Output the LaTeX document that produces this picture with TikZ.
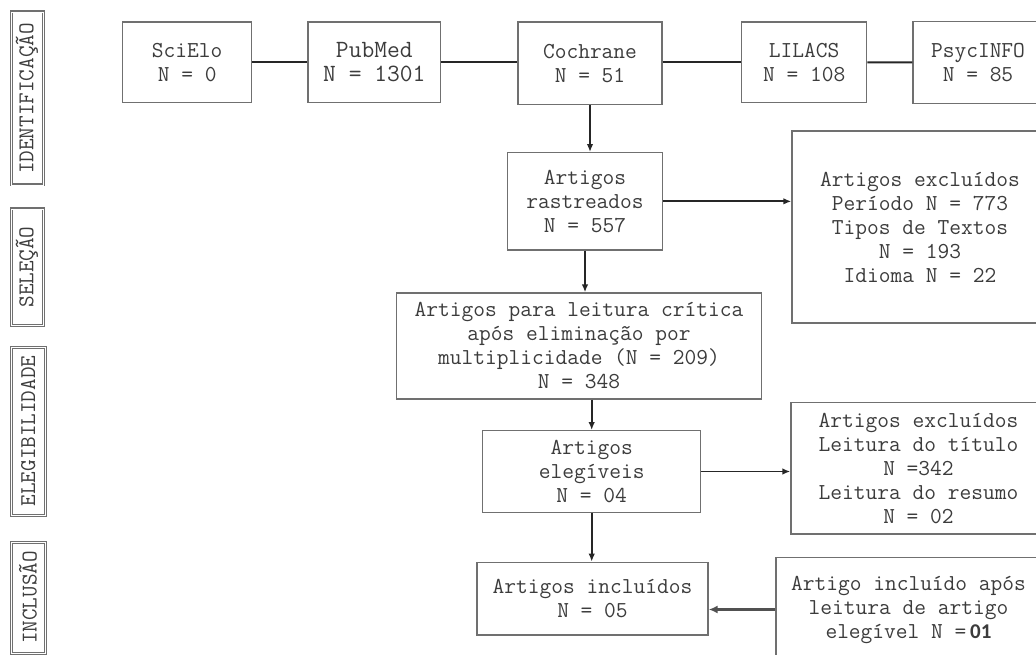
\documentclass[tikz,border=0pt]{standalone}
\usepackage{fontspec}
\usetikzlibrary{arrows.meta}
\newfontfamily\calib{Carlito}
\definecolor{bordc}{HTML}{707070}
\definecolor{linec}{HTML}{262626}
\definecolor{txtc}{HTML}{3C3C3C}
\tikzset{
  box/.style={draw=bordc, line width=1.3pt, inner sep=0pt, align=center, text=txtc,
    font=\ttfamily\fontsize{22.8}{24}\selectfont},
  lbl/.style={draw=bordc, line width=1.2pt, double=white, double distance=0.6pt, inner sep=0pt, rotate=90, text=txtc,
    font=\ttfamily\fontsize{22.5}{22}\selectfont},
  conn/.style={draw=linec, line width=2pt},
  arr/.style={draw=linec, line width=1.8pt, -{Latex[length=8pt,width=6.5pt]}},
}
\begin{document}
\begin{tikzpicture}[x=1pt,y=-1pt]
\useasboundingbox (0,0) rectangle (1036,655);
\clip (0,0) rectangle (1036,655);
% side labels
\node[lbl, minimum width=173, minimum height=32] (lid) at (27,98.5) {IDENTIFICAÇÃO};
\node[lbl, minimum width=116, minimum height=32] (lsel) at (27,267) {SELEÇÃO};
\node[lbl, minimum width=168, minimum height=34] (leleg) at (28.3,431) {ELEGIBILIDADE};
\node[lbl, minimum width=111, minimum height=34] (linc) at (28,597.5) {INCLUSÃO};
% top row
\node[box, minimum width=129, minimum height=80.3] (scielo) at (187.2,62.3) {SciElo\\N = 0};
\node[box, minimum width=132.7, minimum height=80.3, font=\ttfamily\fontsize{24.8}{24}\selectfont] (pubmed) at (374.3,62.3) {PubMed\\N = 1301};
\node[box, minimum width=144, minimum height=82.3] (cochrane) at (590,63.3) {Cochrane\\N = 51};
\node[box, minimum width=125, minimum height=80.3] (lilacs) at (804.2,62.3) {LILACS\\N = 108};
\node[box, minimum width=130, minimum height=81.6] (psyc) at (978,62.5) {PsycINFO\\N = 85};
% flow
\node[box, minimum width=154.8, minimum height=97.3] (rast) at (585,201.35) {Artigos\\rastreados\\N = 557};
\node[box, minimum width=256, minimum height=192] (excl1) at (920,227) {Artigos excluídos\\Período N = 773\\Tipos de Textos\\N = 193\\Idioma N = 22};
\node[box, minimum width=365, minimum height=106] (para) at (579,346) {Artigos para leitura crítica\\após eliminação por\\multiplicidade (N = 209)\\N = 348};
\node[box, minimum width=218, minimum height=81.6] (eleg) at (591.7,471.5) {Artigos\\elegíveis\\N = 04};
\node[box, minimum width=255, minimum height=131.3] (excl2) at (918.5,468.35) {Artigos excluídos\\Leitura do título\\N =342\\Leitura do resumo\\N = 02};
\node[box, minimum width=231, minimum height=72.7] (incl) at (592.5,598.65) {Artigos incluídos\\N = 05};
\node[box, minimum width=265, minimum height=103.6] (apos) at (908.5,609.5) {Artigo incluído após\\leitura de artigo\\elegível N =\,{\calib\bfseries\fontsize{21}{26}\selectfont 01}};
% connectors
\draw[conn] (scielo.east) -- (pubmed.west);
\draw[conn] (pubmed.east) -- (cochrane.west |- pubmed.east);
\draw[conn] (cochrane.east |- lilacs.west) -- (lilacs.west);
\draw[conn] (lilacs.east) -- (psyc.west);
\draw[arr] (cochrane.south) -- (cochrane.south |- rast.north);
\draw[arr] (rast.east) -- (rast.east -| excl1.west);
\draw[arr] (rast.south) -- (rast.south |- para.north);
\draw[arr] (eleg.north |- para.south) -- (eleg.north);
\draw[arr] (eleg.east) -- (eleg.east -| excl2.west);
\draw[arr] (eleg.south) -- (eleg.south |- incl.north);
\draw[arr, line width=3pt, draw=linec!80, -{Latex[length=9pt,width=8pt]}] (apos.west) -- (apos.west -| incl.east);
\end{tikzpicture}
\end{document}
